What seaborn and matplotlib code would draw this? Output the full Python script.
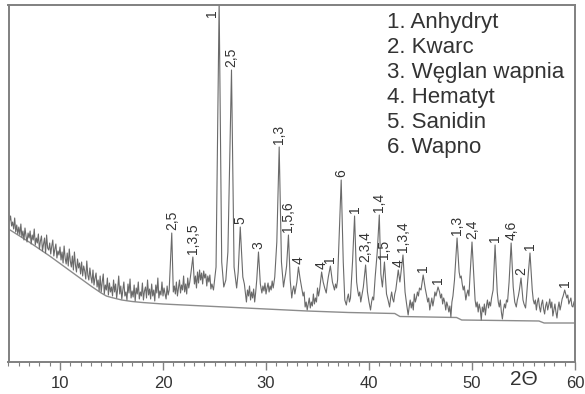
import numpy as np
import matplotlib.pyplot as plt
import seaborn as sns

# XRD pattern, intensity in arbitrary units.
# low angle part: noisy amorphous hump, sampled every 0.1 deg from 5.0 to 20.6
theta_low = np.round(np.arange(50, 207) / 10, 1)
int_low = [
    150, 141, 146, 136, 140, 133, 144, 130, 137, 128,
    135, 127, 138, 125, 131, 122, 134, 126, 120, 129,
    124, 131, 118, 127, 122, 133, 117, 124, 119, 128,
    113, 121, 126, 111, 118, 124, 109, 127, 114, 112,
    119, 108, 116, 122, 106, 113, 118, 104, 111, 107,
    115, 102, 110, 99, 116, 104, 98, 109, 96, 113,
    101, 95, 106, 92, 110, 97, 90, 103, 94, 99,
    88, 100, 86, 96, 91, 83, 101, 87, 82, 94,
    85, 79, 92, 77, 84, 89, 75, 82, 71, 86,
    70, 80, 88, 68, 77, 72, 84, 67, 79, 70,
    75, 66, 82, 70, 78, 64, 73, 86, 68, 76,
    63, 72, 80, 66, 70, 62, 78, 69, 83, 64,
    71, 65, 77, 61, 74, 68, 80, 63, 70, 66,
    79, 62, 71, 75, 64, 82, 67, 73, 63, 78,
    66, 72, 61, 77, 69, 84, 64, 71, 67, 80,
    66, 74, 68, 63, 76, 67, 72,
]

theta_a = [20.85, 21.0, 21.1, 21.2, 21.3, 21.4, 21.5, 21.6, 21.7, 21.8, 21.9,
           22.0, 22.1, 22.2, 22.3, 22.4, 22.5, 22.6, 22.7, 22.9, 23.05, 23.15,
           23.25, 23.35, 23.45, 23.55, 23.65, 23.75, 23.85, 23.95, 24.05, 24.15,
           24.25, 24.35, 24.45, 24.55, 24.65, 24.75, 24.9, 25.15, 25.45, 25.7,
           25.9, 26.1, 26.3, 26.65, 26.9, 27.15, 27.3, 27.5, 27.75, 27.9,
           28.1, 28.2, 28.3, 28.4, 28.5, 28.6, 28.7, 28.8, 28.9, 29.0,
           29.1, 29.27, 29.45, 29.6, 29.7, 29.8, 29.9, 30.0, 30.1, 30.2,
           30.3, 30.4, 30.5, 30.6, 30.7, 30.85]
int_a = [129, 70, 76, 68, 80, 66, 74, 82, 69, 77, 72,
         86, 70, 78, 68, 84, 74, 80, 88, 105, 78, 86,
         74, 90, 79, 92, 82, 89, 78, 91, 84, 88,
         76, 86, 80, 87, 73, 78, 72, 95, 360, 100,
         75, 82, 110, 292, 95, 74, 90, 135, 85, 78,
         60, 72, 66, 76, 62, 70, 64, 73, 60, 70,
         82, 110, 78, 69, 76, 71, 79, 68, 74, 79,
         70, 76, 72, 81, 74, 85]

theta_b = [31.05, 31.28, 31.5, 31.7, 31.8, 31.9, 32.0, 32.18, 32.35, 32.5,
           32.6, 32.7, 32.8, 32.9, 33.0, 33.15, 33.3, 33.4, 33.5, 33.6,
           33.7, 33.8, 33.9, 34.0, 34.1, 34.2, 34.3, 34.4, 34.5, 34.6,
           34.7, 34.8, 34.9, 35.0, 35.1, 35.2, 35.4, 35.55, 35.7, 35.85,
           35.95, 36.05, 36.25, 36.45, 36.55, 36.65, 36.75, 36.85, 36.95, 37.05,
           37.3, 37.5, 37.65, 37.8, 37.9, 38.0, 38.1, 38.2, 38.4, 38.6,
           38.8, 38.9, 39.0, 39.1, 39.2, 39.3, 39.45, 39.67, 39.85, 40.0,
           40.15, 40.25, 40.35, 40.45, 40.6, 40.8, 41.0, 41.15, 41.3, 41.5,
           41.7, 41.85, 42.0, 42.1, 42.2, 42.3, 42.4, 42.5, 42.6, 42.84,
           43.0, 43.3, 43.5, 43.65]
int_b = [120, 215, 100, 75, 82, 88, 96, 127, 82, 64,
         72, 76, 68, 74, 80, 95, 84, 78, 72, 66,
         70, 55, 60, 52, 58, 64, 54, 60, 56, 68,
         58, 64, 60, 74, 66, 72, 90, 80, 74, 69,
         78, 85, 96, 80, 76, 72, 78, 74, 82, 110,
         182, 100, 62, 57, 64, 68, 60, 64, 100, 146,
         80, 72, 66, 70, 60, 66, 75, 97, 70, 60,
         52, 60, 65, 62, 85, 110, 147, 88, 75, 100,
         68, 62, 55, 64, 70, 63, 60, 68, 72, 92,
         80, 107, 70, 58]

theta_c = [43.8, 43.9, 44.0, 44.1, 44.2, 44.3, 44.4, 44.5, 44.6, 44.7,
           44.8, 44.9, 45.05, 45.26, 45.45, 45.6, 45.7, 45.8, 45.9, 46.0,
           46.1, 46.2, 46.3, 46.4, 46.5, 46.7, 46.85, 46.95, 47.05, 47.15,
           47.25, 47.35, 47.45, 47.55, 47.65, 47.75, 47.85, 47.95, 48.05, 48.15,
           48.3, 48.55, 48.75, 48.85, 48.95, 49.05, 49.15, 49.25, 49.4, 49.5,
           49.6, 49.7, 49.8, 50.0, 50.2, 50.3, 50.4, 50.5, 50.6, 50.7,
           50.8, 50.9, 51.0, 51.1, 51.2, 51.3, 51.4, 51.5, 51.6, 51.7,
           51.8, 51.9, 52.05, 52.24, 52.45, 52.55, 52.65, 52.75, 52.85, 52.95,
           53.05, 53.15, 53.25, 53.35, 53.45, 53.6, 53.8, 54.0, 54.15, 54.3,
           54.4, 54.5, 54.6, 54.76, 54.95, 55.05, 55.2, 55.3, 55.4, 55.63,
           55.85, 55.95, 56.05, 56.15, 56.25, 56.35, 56.45, 56.55, 56.65, 56.75,
           56.85, 56.95, 57.05, 57.15, 57.25, 57.35, 57.45, 57.55, 57.65, 57.75,
           57.85, 57.95, 58.05, 58.15, 58.25, 58.35, 58.45, 58.55, 58.65, 58.75,
           58.85, 58.9, 59.0, 59.1, 59.2, 59.3, 59.4, 59.5, 59.6, 59.7,
           59.8, 59.9, 60.0]
int_c = [47, 55, 62, 54, 60, 52, 68, 60, 64, 70,
         66, 74, 72, 87, 74, 66, 60, 64, 52, 58,
         64, 56, 62, 70, 66, 75, 70, 64, 68, 58,
         64, 60, 52, 60, 56, 50, 56, 45, 60, 66,
         82, 124, 90, 84, 86, 78, 72, 76, 62, 68,
         72, 66, 85, 120, 80, 62, 55, 60, 50, 58,
         53, 42, 55, 50, 58, 47, 56, 62, 54, 60,
         56, 64, 72, 117, 70, 60, 55, 62, 50, 43,
         52, 58, 54, 62, 60, 80, 119, 75, 60, 55,
         62, 66, 72, 84, 62, 58, 54, 66, 80, 109,
         72, 62, 58, 62, 52, 60, 64, 55, 50, 58,
         62, 53, 48, 56, 60, 52, 57, 63, 54, 60,
         46, 52, 58, 50, 44, 54, 60, 52, 57, 63,
         66, 68, 72, 68, 64, 67, 58, 61, 64, 56,
         55, 60, 62]

two_theta = np.concatenate([theta_low, theta_a, theta_b, theta_c])
intensity = np.concatenate([int_low, int_a, int_b, int_c])

# fitted background line under the pattern
bg_theta = [5.0, 7.0, 9.0, 11.0, 13.0, 14.0, 14.5, 15.0, 16.0, 17.0, 18.0, 20.0,
            23.0, 26.0, 30.0, 34.0, 38.0, 42.5, 43.0, 48.5, 49.0, 56.5, 57.0, 60.0]
bg_int = [133, 120, 106, 91, 76, 69, 66, 64.5, 62, 60.5, 59.5, 58,
          56.5, 55, 53, 51, 49.5, 48.5, 45.5, 44.5, 42, 41, 39, 39]

# peak labels (phase numbers)
peak_theta = [20.85, 22.9, 25.45, 26.65, 27.5, 29.27, 31.28, 32.18, 33.15, 35.4,
              36.25, 37.3, 38.6, 39.67, 41.0, 41.5, 42.84, 43.3, 45.26, 46.7,
              48.55, 50.0, 52.24, 53.8, 54.76, 55.63, 59.0]
peak_text = ["2,5", "1,3,5", "1", "2,5", "5", "3", "1,3", "1,5,6", "4", "4",
             "1", "6", "1", "2,3,4", "1,4", "1,5", "4", "1,3,4", "1", "1",
             "1,3", "2,4", "1", "4,6", "2", "1", "1"]

phases = ["1. Anhydryt", "2. Kwarc", "3. Węglan wapnia", "4. Hematyt",
          "5. Sanidin", "6. Wapno"]

sns.set_style("white")
plt.rcParams['font.family'] = ['Liberation Sans', 'DejaVu Sans']

fig = plt.figure(figsize=(5.85, 3.94), dpi=100)
ax = fig.add_axes([8.5 / 585, 32 / 394, 566.5 / 585, 357 / 394])

sns.lineplot(x=bg_theta, y=bg_int, ax=ax, color="#8c8c8c", linewidth=1.0)
sns.lineplot(x=two_theta, y=intensity, ax=ax, color="#6a6a6a", linewidth=0.8)

ax.set_xlim(5, 60)
ax.set_ylim(0, 357)

ymax = ax.get_ylim()[1]
for t, s in zip(peak_theta, peak_text):
    h = np.interp(t, two_theta, intensity)
    if h >= ymax:
        # top of the strongest peak is clipped, its label sits beside it
        ax.text(t - 0.7, ymax - 4, s, rotation=90, ha="center", va="top",
                fontsize=10, color="#333333")
    else:
        ax.text(t, h + 3, s, rotation=90, ha="center", va="bottom",
                fontsize=10, color="#333333")

for i, p in enumerate(phases):
    ax.text(0.668, 0.952 - i * 0.07, p, transform=ax.transAxes,
            ha="left", va="center", fontsize=16, color="#333333")

ax.set_xticks([10, 20, 30, 40, 50, 60])
ax.set_xticks(np.arange(5, 61, 1), minor=True)
ax.set_yticks([])
ax.tick_params(axis="x", which="major", direction="out", length=6, width=1,
               color="#808080", labelsize=12, labelcolor="#333333", pad=4,
               bottom=True)
ax.tick_params(axis="x", which="minor", direction="out", length=3, width=0.8,
               color="#808080", bottom=True)
ax.text(55.0, -0.05, "2Θ", transform=ax.get_xaxis_transform(),
        ha="center", va="center", fontsize=15, color="#333333")

for sp in ax.spines.values():
    sp.set_visible(True)
    sp.set_color("#808080")
    sp.set_linewidth(1.4)

ax.set_xlabel("")
ax.set_ylabel("")
fig.savefig("out.png", dpi=100, facecolor="white")
